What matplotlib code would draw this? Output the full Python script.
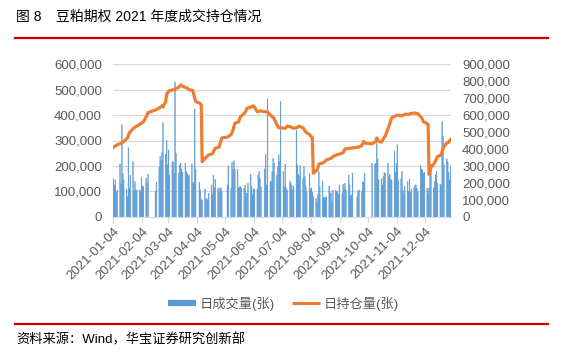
import numpy as np
import pandas as pd
import matplotlib
matplotlib.use("Agg")
import matplotlib.pyplot as plt
from matplotlib.ticker import FuncFormatter, MultipleLocator
from matplotlib.lines import Line2D

plt.rcParams['font.family'] = ['Liberation Sans', 'Noto Sans CJK SC', 'DejaVu Sans']

# exchange holidays 2021 (weekdays only)
holidays = ['2021-01-01', '2021-02-11', '2021-02-12', '2021-02-15', '2021-02-16', '2021-02-17',
            '2021-04-05', '2021-05-03', '2021-05-04', '2021-05-05', '2021-06-14',
            '2021-09-20', '2021-09-21', '2021-10-01', '2021-10-04', '2021-10-05',
            '2021-10-06', '2021-10-07']

# daily volume, thousand contracts, one value per trading day
vol_jan = [149, 125, 145, 96, 105, 207, 129, 362, 171, 145, 109, 79, 272, 110, 164, 217, 105, 138, 105, 105]
vol_feb = [105, 99, 154, 122, 118, 151, 134, 168, 99, 136, 195, 237, 222, 253, 371]
vol_mar = [246, 300, 204, 263, 164, 217, 214, 171, 530, 250, 172, 204, 211, 187, 174,
           211, 178, 171, 161, 164, 208, 134, 134]
vol_apr = [424, 188, 136, 105, 68, 66, 109, 70, 72, 66, 92, 125, 88, 164, 114, 147, 112, 96, 112, 114, 100]
vol_may = [125, 200, 112, 214, 184, 220, 187, 187, 112, 118, 118, 112, 112, 125, 92, 92, 132, 167]
vol_jun = [118, 86, 109, 109, 109, 164, 178, 150, 118, 188, 247, 125, 464, 136, 141, 178, 230, 211,
           164, 197, 243]
vol_jul = [217, 454, 178, 118, 207, 112, 105, 141, 132, 122, 105, 120, 342, 204, 167, 158, 201,
           151, 197, 158, 122, 99]
vol_aug = [171, 109, 114, 96, 79, 72, 59, 88, 178, 118, 141, 75, 75, 75, 79, 121, 99, 92, 62,
           105, 105, 99]
vol_sep = [99, 88, 125, 92, 128, 114, 132, 105, 164, 125, 83, 86, 171, 79, 101, 105, 101, 138, 136, 171]
vol_oct = [211, 207, 211, 289, 228, 145, 149, 125, 158, 175, 170, 211, 158, 167, 145, 145]
vol_nov = [259, 175, 211, 283, 145, 149, 178, 105, 92, 120, 138, 99, 149, 96, 110,
           114, 125, 125, 112, 99, 201, 188]
vol_dec = [184, 171, 175, 112, 92, 112, 164, 207, 114, 138, 164, 178, 132, 128, 122, 375, 316, 204,
           228, 217, 175, 145, 197]

# open interest, thousand contracts
oi_dates = ['2021-01-04', '2021-01-08', '2021-01-13', '2021-01-15', '2021-01-19', '2021-01-21',
            '2021-01-26', '2021-02-01', '2021-02-05', '2021-02-09', '2021-02-10', '2021-02-18',
            '2021-02-23', '2021-02-25', '2021-02-26', '2021-03-01', '2021-03-02', '2021-03-05',
            '2021-03-10', '2021-03-15', '2021-03-17', '2021-03-19', '2021-03-24', '2021-03-26',
            '2021-03-30', '2021-04-01', '2021-04-02', '2021-04-06', '2021-04-08', '2021-04-09',
            '2021-04-13', '2021-04-16', '2021-04-20', '2021-04-23', '2021-04-27', '2021-04-30',
            '2021-05-06', '2021-05-10', '2021-05-12', '2021-05-14', '2021-05-18', '2021-05-20',
            '2021-05-25', '2021-05-27', '2021-06-01', '2021-06-03', '2021-06-07', '2021-06-10',
            '2021-06-15', '2021-06-18', '2021-06-22', '2021-06-25', '2021-06-28', '2021-06-30',
            '2021-07-02', '2021-07-07', '2021-07-09', '2021-07-13', '2021-07-16', '2021-07-20',
            '2021-07-22', '2021-07-26', '2021-07-29', '2021-08-02', '2021-08-05', '2021-08-06',
            '2021-08-10', '2021-08-12', '2021-08-17', '2021-08-20', '2021-08-25', '2021-08-27',
            '2021-08-31', '2021-09-03', '2021-09-07', '2021-09-09', '2021-09-15', '2021-09-23',
            '2021-09-27', '2021-09-29', '2021-09-30', '2021-10-08', '2021-10-12', '2021-10-13',
            '2021-10-15', '2021-10-18', '2021-10-20', '2021-10-22', '2021-10-25', '2021-10-27',
            '2021-10-29', '2021-11-02', '2021-11-05', '2021-11-09', '2021-11-12', '2021-11-16',
            '2021-11-19', '2021-11-23', '2021-11-26', '2021-11-30', '2021-12-02', '2021-12-06',
            '2021-12-07', '2021-12-08', '2021-12-10', '2021-12-13', '2021-12-15', '2021-12-17',
            '2021-12-21', '2021-12-22', '2021-12-24', '2021-12-27', '2021-12-29', '2021-12-31']
oi_vals = [410, 425, 435, 445, 465, 495, 525, 545, 560, 600, 615, 630, 645, 655, 648, 680, 725, 745,
           750, 765, 778, 770, 760, 750, 745, 700, 680, 672, 660, 325, 350, 365, 372, 405, 410, 465,
           470, 485, 510, 552, 560, 590, 615, 640, 650, 655, 620, 625, 620, 618, 595, 580, 545, 525,
           525, 522, 535, 530, 522, 528, 535, 525, 500, 485, 465, 256, 275, 310, 320, 335, 345, 355,
           365, 370, 378, 400, 405, 410, 420, 445, 435, 430, 445, 465, 445, 440, 460, 475, 520, 550,
           585, 595, 600, 595, 605, 605, 610, 612, 608, 585, 560, 550, 545, 250, 290, 310, 330, 355,
           365, 385, 415, 435, 440, 455]

tick_labels = ['2021-01-04', '2021-02-04', '2021-03-04', '2021-04-04', '2021-05-04', '2021-06-04',
               '2021-07-04', '2021-08-04', '2021-09-04', '2021-10-04', '2021-11-04', '2021-12-04']

BLUE = '#5B9BD5'
ORANGE = '#ED7D31'
RED = '#CC0000'
GREY = '#595959'

days = pd.bdate_range('2021-01-04', '2021-12-31')
days = days[~days.isin(pd.to_datetime(holidays))]
vol = np.array(vol_jan + vol_feb + vol_mar + vol_apr + vol_may + vol_jun +
               vol_jul + vol_aug + vol_sep + vol_oct + vol_nov + vol_dec) * 1000
half = pd.Timedelta(hours=12)

W, H = 571, 353
fig = plt.figure(figsize=(W / 100, H / 100), dpi=100)
ax = fig.add_axes([113 / W, 1 - 216.7 / H, (451 - 113) / W, (216.7 - 64.3) / H])
ax2 = ax.twinx()

# bars are under one pixel wide here, so keep them unsnapped with a thin edge
ax.bar(days + half, vol, width=0.7, color=BLUE, edgecolor=BLUE, linewidth=0.35, snap=False)
ax2.plot(pd.to_datetime(oi_dates) + half, np.array(oi_vals) * 1000, color=ORANGE, lw=2.3,
         solid_joinstyle='round')

ax.set_xlim(pd.Timestamp('2021-01-04'), pd.Timestamp('2022-01-01'))
ax.set_ylim(0, 600000)
ax2.set_ylim(0, 900000)
ax.yaxis.set_major_locator(MultipleLocator(100000))
ax2.yaxis.set_major_locator(MultipleLocator(100000))
fmt = FuncFormatter(lambda v, p: f'{int(v):,}')
ax.yaxis.set_major_formatter(fmt)
ax2.yaxis.set_major_formatter(fmt)

ax.set_xticks(pd.to_datetime(tick_labels))
ax.set_xticklabels(tick_labels, rotation=45, ha='right', rotation_mode='anchor')

ax.set_axisbelow(True)
ax.grid(axis='y', color='#D9D9D9', lw=0.9)
for a in (ax, ax2):
    for s in ('top', 'left', 'right'):
        a.spines[s].set_visible(False)
ax2.spines['bottom'].set_visible(False)
ax.spines['bottom'].set_color('#D9D9D9')
ax.tick_params(axis='x', length=4, width=0.8, color='#D9D9D9', labelsize=9.5, labelcolor=GREY, pad=2)
ax.tick_params(axis='y', length=0, labelsize=9.5, labelcolor=GREY, pad=8)
ax2.tick_params(axis='y', length=0, labelsize=9.5, labelcolor=GREY, pad=8)

handles = [Line2D([], [], color=BLUE, lw=4.5, solid_capstyle='butt'),
           Line2D([], [], color=ORANGE, lw=2.2, solid_capstyle='butt')]
fig.legend(handles, ['日成交量(张)', '日持仓量(张)'], loc='center',
           bbox_to_anchor=(283.5 / W, 1 - 304 / H), ncol=2, frameon=False, fontsize=9.5,
           labelcolor=GREY, handlelength=2.1, handletextpad=0.3, columnspacing=1.3)

fig.text(16 / W, 1 - 16.5 / H, '图 8', fontsize=10, va='center', ha='left')
fig.text(56 / W, 1 - 16.5 / H, '豆粕期权 2021 年度成交持仓情况', fontsize=10, va='center', ha='left')
fig.add_artist(Line2D([15 / W, 548 / W], [1 - 38 / H] * 2, color=RED, lw=1.6))
fig.add_artist(Line2D([15 / W, 548 / W], [1 - 324 / H] * 2, color=RED, lw=1.6))
fig.text(16 / W, 1 - 340 / H, '资料来源：Wind，华宝证券研究创新部', fontsize=9.5, va='center', ha='left')

fig.savefig('out.png', dpi=100)
